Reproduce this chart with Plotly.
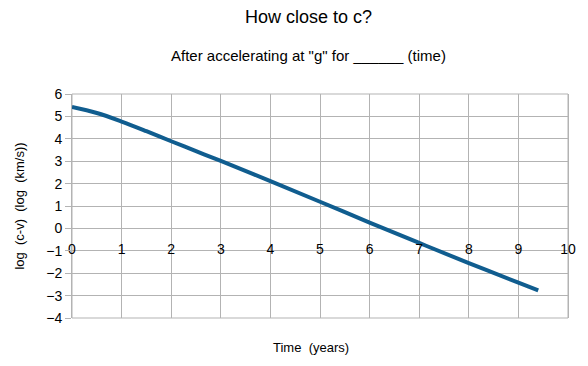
import plotly.graph_objects as go

# Data
time_years = [0, 0.5, 1, 1.5, 2, 2.5, 3, 4, 5, 6, 7, 8, 9, 9.4]
log_c_minus_v = [5.42, 5.15, 4.77, 4.34, 3.89, 3.45, 3.01, 2.11, 1.19, 0.26, -0.65, -1.55, -2.42, -2.77]

x_ticks = list(range(0, 11))
y_ticks = list(range(-4, 7))

GRID = "#b3b3b3"
FONT = "Liberation Sans, Arial, sans-serif"

fig = go.Figure()
fig.add_trace(go.Scatter(
    x=time_years, y=log_c_minus_v, mode="lines",
    line=dict(color="#105d8f", width=4, shape="spline", smoothing=1.0),
    showlegend=False, hoverinfo="skip",
))

fig.update_layout(
    width=588, height=366,
    margin=dict(l=72, r=16, t=94, b=48),
    paper_bgcolor="white", plot_bgcolor="white",
    font=dict(family=FONT, color="black"),
    xaxis=dict(
        range=[0, 10], tickmode="array", tickvals=x_ticks,
        ticktext=[str(v) for v in x_ticks],
        showgrid=True, gridcolor=GRID, gridwidth=1,
        zeroline=False, showline=False,
        anchor="free", position=0.4,
        ticks="outside", ticklen=8, tickcolor="rgba(0,0,0,0)",
        tickfont=dict(size=14),
    ),
    yaxis=dict(
        range=[-4, 6], tickmode="array", tickvals=y_ticks,
        showgrid=True, gridcolor=GRID, gridwidth=1,
        zeroline=False, showline=True, linecolor=GRID, mirror=True,
        ticks="outside", ticklen=6, tickcolor=GRID,
        tickfont=dict(size=14),
        title=dict(text="log  (c-v)  (log  (km/s))", font=dict(size=13), standoff=18),
    ),
    annotations=[
        dict(text="How close to c?", xref="paper", yref="paper",
             x=(310 - 72) / 500, y=(318 - 17) / 224, xanchor="center", yanchor="middle",
             showarrow=False, font=dict(size=18)),
        dict(text="After accelerating at \"g\" for ______ (time)", xref="paper", yref="paper",
             x=(310 - 72) / 500, y=(318 - 55) / 224, xanchor="center", yanchor="middle",
             showarrow=False, font=dict(size=15)),
        dict(text="Time  (years)", xref="paper", yref="paper",
             x=(313 - 72) / 500, y=(318 - 347) / 224, xanchor="center", yanchor="middle",
             showarrow=False, font=dict(size=13)),
    ],
)
fig.add_shape(type="rect", xref="paper", yref="paper", x0=0, y0=0, x1=1, y1=1,
              line=dict(color=GRID, width=1), layer="below")

fig.write_html("out.html", config={"displayModeBar": False},
               post_script="document.body.style.margin='0';")
